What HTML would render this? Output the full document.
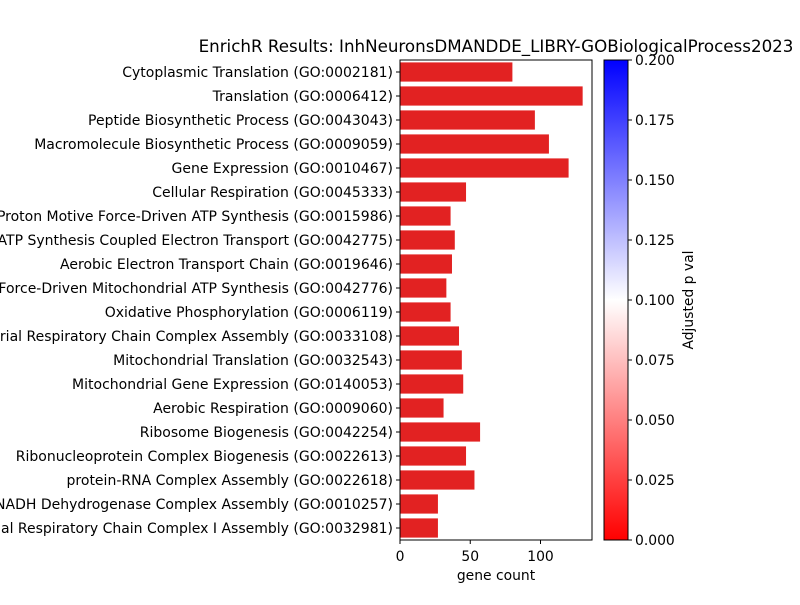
<!DOCTYPE html>
<html><head><meta charset="utf-8"><style>
body{margin:0;background:#fff}
svg text{font-family:"DejaVu Sans","Liberation Sans",sans-serif;fill:#000}
</style></head><body>
<svg width="800" height="600" viewBox="0 0 800 600">
<defs><linearGradient id="cb" x1="0" y1="1" x2="0" y2="0">
<stop offset="0" stop-color="#ff0000"/><stop offset="0.5" stop-color="#ffffff"/><stop offset="1" stop-color="#0000ff"/></linearGradient></defs>
<text x="496" y="52" font-size="16.7" text-anchor="middle">EnrichR Results: InhNeuronsDMANDDE_LIBRY-GOBiologicalProcess2023</text>
<g id="bars"></g>
<g id="ylab"></g>
<g id="xt"></g>
<rect x="400" y="60" width="192" height="480" fill="none" stroke="#000" stroke-width="1"/>
<text x="496" y="580" font-size="13.9" text-anchor="middle">gene count</text>
<rect x="604" y="60" width="24" height="480" fill="url(#cb)" stroke="#000" stroke-width="1"/>
<g id="cbt"></g>
<text transform="translate(693,300) rotate(-90)" font-size="13.9" text-anchor="middle">Adjusted p val</text>
</svg>
<script>
const categories=["Cytoplasmic Translation (GO:0002181)","Translation (GO:0006412)","Peptide Biosynthetic Process (GO:0043043)","Macromolecule Biosynthetic Process (GO:0009059)","Gene Expression (GO:0010467)","Cellular Respiration (GO:0045333)","Proton Motive Force-Driven ATP Synthesis (GO:0015986)","Mitochondrial ATP Synthesis Coupled Electron Transport (GO:0042775)","Aerobic Electron Transport Chain (GO:0019646)","Proton Motive Force-Driven Mitochondrial ATP Synthesis (GO:0042776)","Oxidative Phosphorylation (GO:0006119)","Mitochondrial Respiratory Chain Complex Assembly (GO:0033108)","Mitochondrial Translation (GO:0032543)","Mitochondrial Gene Expression (GO:0140053)","Aerobic Respiration (GO:0009060)","Ribosome Biogenesis (GO:0042254)","Ribonucleoprotein Complex Biogenesis (GO:0022613)","protein-RNA Complex Assembly (GO:0022618)","NADH Dehydrogenase Complex Assembly (GO:0010257)","Mitochondrial Respiratory Chain Complex I Assembly (GO:0032981)"];
const counts=[80,130,96,106,120,47,36,39,37,33,36,42,44,45,31,57,47,53,27,27];
const xTicks=[0,50,100];
const cbTicks=["0.000","0.025","0.050","0.075","0.100","0.125","0.150","0.175","0.200"];
const NS="http://www.w3.org/2000/svg";
const x=v=>400+v*1.405, y=i=>60+24*i;
function mk(t,a,p){const e=document.createElementNS(NS,t);for(const k in a)e.setAttribute(k,a[k]);document.getElementById(p).appendChild(e);return e;}
categories.forEach((c,i)=>{
 const r=mk("rect",{x:400,y:y(i)+2.4,width:x(counts[i])-400,height:19.2,fill:"#e22222"},"bars");
 
 
 mk("line",{x1:396,x2:400,y1:y(i)+12,y2:y(i)+12,stroke:"#000"},"ylab");
 const t=mk("text",{x:393,y:y(i)+17,"font-size":14,"text-anchor":"end"},"ylab");t.textContent=c;
 
 
});
xTicks.forEach(v=>{
 mk("line",{x1:x(v),x2:x(v),y1:540,y2:544,stroke:"#000"},"xt");
 const t=mk("text",{x:x(v),y:561,"font-size":13.9,"text-anchor":"middle"},"xt");t.textContent=v;
 
 
});
cbTicks.forEach((v,i)=>{
 const yy=540-i*60;
 mk("line",{x1:628,x2:632,y1:yy,y2:yy,stroke:"#000"},"cbt");
 const t=mk("text",{x:635,y:yy+5,"font-size":13.9},"cbt");t.textContent=v;
 
 
});
</script>
</body></html>
